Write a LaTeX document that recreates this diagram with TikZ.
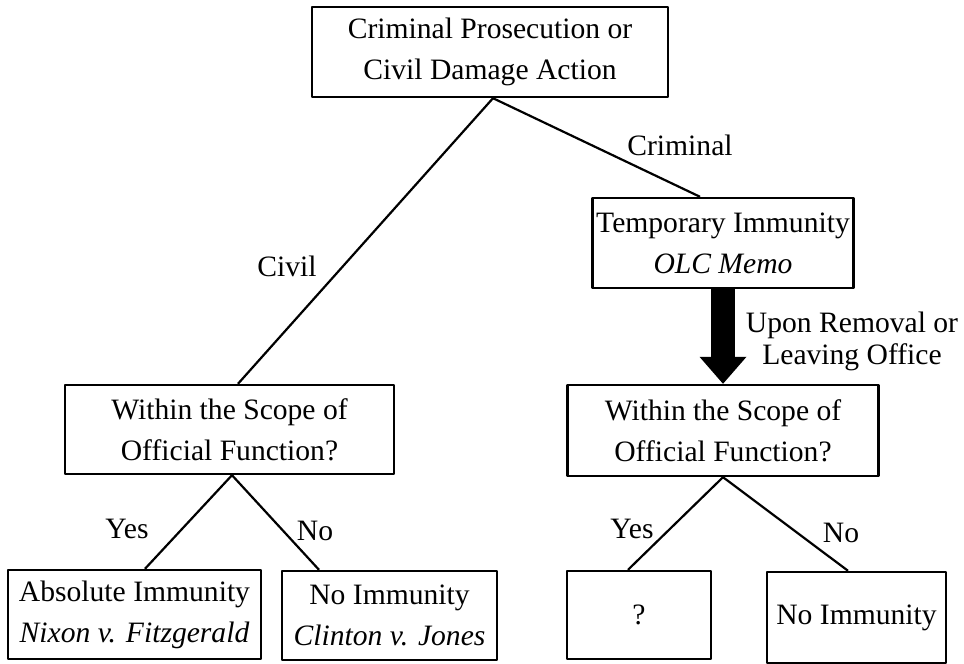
\documentclass[tikz,border=0pt]{standalone}
\usepackage{fontspec}
\setmainfont{Liberation Serif}
\usetikzlibrary{arrows.meta}
\begin{document}
\begin{tikzpicture}[>=latex,line join=bevel,
  box/.style={draw,line width=2.4bp,inner sep=0pt,align=center,font=\fontsize{29.6bp}{41bp}\selectfont},
  lbl/.style={draw=none,inner sep=0pt,align=center,font=\fontsize{29.6bp}{41bp}\selectfont},
  branch/.style={black,line width=2.2bp},
  bigarrow/.style={black,line width=24bp,-{Triangle[width=47bp,length=27bp,line width=0pt]}},]
\useasboundingbox (0bp,0bp) rectangle (964bp,664bp);
%%
\node (node_0) at (490bp,612bp) [box,minimum width=356bp,minimum height=90bp] {Criminal Prosecution or\\Civil Damage Action};
  \node (node_1) at (723bp,421bp) [box,minimum width=261bp,minimum height=90bp] {Temporary Immunity\\\textit{OLC Memo}};
  \node (node_2) at (229.5bp,234.5bp) [box,minimum width=329bp,minimum height=89bp] {Within the Scope of\\Official Function?};
  \node (node_3) at (723bp,233.5bp) [box,minimum width=311bp,minimum height=91bp] {Within the Scope of\\Official Function?};
  \node (node_4) at (134.5bp,49.5bp) [box,minimum width=253bp,minimum height=89bp] {Absolute Immunity\\\textit{Nixon v. Fitzgerald}};
  \node (node_5) at (389.5bp,48.5bp) [box,minimum width=215bp,minimum height=89bp] {No Immunity\\\textit{Clinton v. Jones}};
  \node (node_6) at (639bp,49bp) [box,minimum width=144bp,minimum height=88bp] {?};
  \node (node_7) at (856.5bp,46.5bp) [box,minimum width=179bp,minimum height=91bp] {No Immunity};
%%
\node (lbl_0) at (680bp,519bp) [lbl] {Criminal};
  \node (lbl_1) at (287bp,398bp) [lbl] {Civil};
  \node (lbl_2) at (852bp,322.5bp) [lbl,font=\fontsize{29.6bp}{32bp}\selectfont] {Upon Removal or\\Leaving Office};
  \node (lbl_3) at (127bp,135bp) [lbl] {Yes};
  \node (lbl_4) at (315bp,133bp) [lbl] {No};
  \node (lbl_5) at (632bp,135bp) [lbl] {Yes};
  \node (lbl_6) at (841bp,131bp) [lbl] {No};
%%
\draw [branch] ([xshift=3bp]node_0.south) -- ([xshift=8.5bp]node_2.north);
  \draw [branch] ([xshift=3bp]node_0.south) -- ([xshift=-23bp]node_1.north);
  \draw [bigarrow] (node_1.south) -- (node_3.north);
  \draw [branch] ([xshift=2.5bp]node_2.south) -- ([xshift=10.5bp]node_4.north);
  \draw [branch] ([xshift=2.5bp]node_2.south) -- ([xshift=-70.5bp]node_5.north);
  \draw [branch] (node_3.south) -- ([xshift=-11bp]node_6.north);
  \draw [branch] (node_3.south) -- ([xshift=-8.5bp]node_7.north);
%
\end{tikzpicture}
\end{document}
